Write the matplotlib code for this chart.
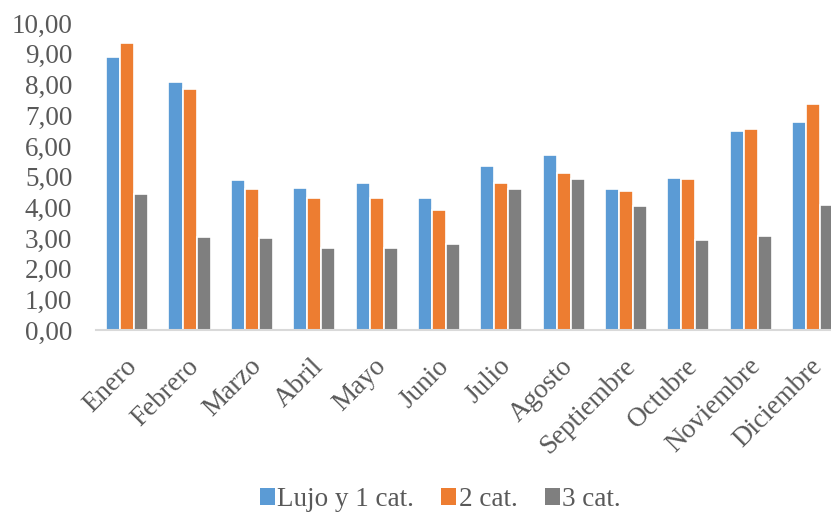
import numpy as np
import matplotlib
matplotlib.use("Agg")
from matplotlib import pyplot as plt
from matplotlib.ticker import FuncFormatter
from matplotlib.transforms import ScaledTranslation

meses = ['Enero', 'Febrero', 'Marzo', 'Abril', 'Mayo', 'Junio', 'Julio',
         'Agosto', 'Septiembre', 'Octubre', 'Noviembre', 'Diciembre']
lujo_1cat = [8.90, 8.07, 4.89, 4.63, 4.79, 4.32, 5.35, 5.69, 4.59, 4.97, 6.48, 6.79]
cat_2 = [9.36, 7.84, 4.59, 4.29, 4.32, 3.90, 4.78, 5.11, 4.52, 4.93, 6.54, 7.36]
cat_3 = [4.45, 3.04, 2.99, 2.66, 2.69, 2.81, 4.59, 4.91, 4.03, 2.95, 3.08, 4.07]

series = [('Lujo y 1 cat.', lujo_1cat, '#5B9BD5'),
          ('2 cat.', cat_2, '#ED7D31'),
          ('3 cat.', cat_3, '#7F7F7F')]

plt.rcParams['font.family'] = ['Liberation Serif', 'DejaVu Serif']
txt = '#595959'

fig = plt.figure(figsize=(8.31, 5.15), dpi=100)
ax = fig.add_axes([0.1155, 0.359, 0.9005, 0.596])

x = np.arange(len(meses))
paso = 0.225
for i, (nombre, vals, color) in enumerate(series):
    ax.bar(x + (i - 1) * paso, vals, width=paso, color=color,
           edgecolor='white', linewidth=1.2, label=nombre, zorder=2)

ax.set_xlim(-0.5, len(meses) - 0.5)
ax.set_ylim(0, 10)
ax.set_yticks(np.arange(0, 11, 1))
ax.yaxis.set_major_formatter(FuncFormatter(lambda v, p: f'{v:.2f}'.replace('.', ',')))

for s in ['top', 'right', 'left']:
    ax.spines[s].set_visible(False)
ax.spines['bottom'].set_color('#D9D9D9')
ax.spines['bottom'].set_linewidth(1.5)
ax.spines['bottom'].set_zorder(3)

ax.tick_params(axis='both', length=0, labelsize=19.5, labelcolor=txt)
ax.tick_params(axis='y', pad=17)
ax.tick_params(axis='x', pad=17)
ax.set_xticks(x)
ax.set_xticklabels(meses, rotation=45, ha='right', va='top', rotation_mode='anchor')
desplaz = ScaledTranslation(-3 / 100, 0, fig.dpi_scale_trans)
for lbl in ax.get_xticklabels():
    lbl.set_transform(lbl.get_transform() + desplaz)

leg = fig.legend(loc='center', bbox_to_anchor=(0.53, 0.03), ncol=3, frameon=False,
                 fontsize=19.5, handlelength=0.55, handleheight=0.55,
                 handletextpad=0.1, columnspacing=1.0, labelcolor=txt)
for h in leg.legend_handles:
    h.set_edgecolor('none')

fig.savefig('out.png', dpi=100)
